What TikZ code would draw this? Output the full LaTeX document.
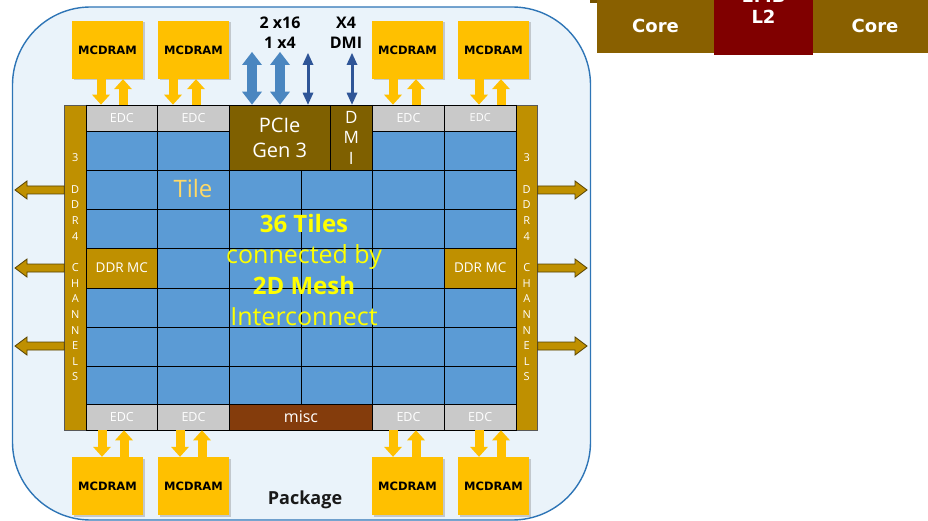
\documentclass[tikz,border=0pt]{standalone}
\usepackage{fontspec}
\setmainfont{Open Sans}
\newfontfamily\dvsans{DejaVu Sans}
\usetikzlibrary{arrows.meta,shadows,calc}

\definecolor{pkgfill}{HTML}{EAF3FA}
\definecolor{pkgline}{HTML}{2E75B6}
\definecolor{tileblue}{HTML}{5B9BD5}
\definecolor{edcgray}{HTML}{C9C9C9}
\definecolor{pciebrown}{HTML}{7F6000}
\definecolor{ddrgold}{HTML}{BF9000}
\definecolor{miscbrown}{HTML}{843C0C}
\definecolor{mcyellow}{HTML}{FFC000}
\definecolor{widearrow}{HTML}{4A86C0}
\definecolor{thinarrow}{HTML}{2F5597}
\definecolor{corebrown}{HTML}{896000}
\definecolor{ltwored}{HTML}{800000}
\definecolor{tiletext}{HTML}{FFD966}
\definecolor{meshtext}{HTML}{FFFF00}

\newcommand\fsz[2]{\fontsize{#1}{#2}\selectfont}

% outlined block arrow: #1 start, #2 tip, #3 = 1 (points left) or -1 (points right)
\newcommand\sidearrow[3]{%
  \draw[goldarr] ($(#1)+(0,-4)$) -- ($(#2)+(#3*12,-4)$) -- ($(#2)+(#3*12,-9)$)
    -- (#2) -- ($(#2)+(#3*12,9)$) -- ($(#2)+(#3*12,4)$) -- ($(#1)+(0,4)$) -- cycle;}

\begin{document}
\begin{tikzpicture}[x=1pt,y=-1pt,
  cell/.style={rectangle, draw=black, line width=0.7pt, inner sep=0pt, text=white},
  edcbox/.style={cell, fill=edcgray, minimum width=71.67pt, minimum height=26pt,
    font=\fsz{12.5pt}{14pt}},
  mcbox/.style={rectangle, fill=mcyellow, inner sep=0pt, minimum width=71pt,
    minimum height=58pt, font=\dvsans\bfseries\fsz{11.5pt}{13pt},
    drop shadow={shadow xshift=1.5pt, shadow yshift=-1.5pt, opacity=0.3, fill=black!60}},
  barbox/.style={rectangle, fill=ddrgold, draw=black!65, line width=0.6pt, inner sep=0pt,
    minimum width=21.5pt, minimum height=325pt, text=white, align=center,
    font=\fsz{11pt}{15.65pt}},
  mcarrow/.style={draw=mcyellow, line width=9pt,
    -{Triangle[width=18pt,length=10pt,line width=0pt]}},
  pciewide/.style={draw=widearrow, line width=10pt,
    {Triangle[width=20pt,length=13pt,line width=0pt]}-{Triangle[width=20pt,length=13pt,line width=0pt]}},
  pcithin/.style={draw=thinarrow, line width=3pt,
    {Triangle[width=11pt,length=12pt,line width=0pt]}-{Triangle[width=11pt,length=12pt,line width=0pt]}},
  goldarr/.style={fill=ddrgold, draw=black!55!ddrgold, line width=0.8pt, line join=miter},
  corebox/.style={rectangle, inner sep=0pt, text=white, font=\dvsans\bfseries\fsz{18pt}{21pt}},
  gridline/.style={draw=black, line width=0.7pt},
  toplabel/.style={anchor=base, font=\bfseries\fsz{16pt}{18pt}}
]
\useasboundingbox (0,0) rectangle (928,521);
\clip (0,0) rectangle (928,521);

% package outline
\draw[fill=pkgfill, draw=pkgline, line width=1.4pt, rounded corners=78pt]
  (12.5,7) rectangle (590.5,520);

% core / L2 strip at the top right
\fill[corebrown!85!black] (590,-1) rectangle (714,2.7);
\node[corebox, fill=corebrown, minimum width=117pt, minimum height=54pt] (core1) at (655.5,26) {Core};
\node[corebox, fill=corebrown, minimum width=124pt, minimum height=54pt] (core2) at (875,26) {Core};
\node[corebox, fill=ltwored, minimum width=99pt, minimum height=56pt] (ltwo) at (763.5,27) {};
\node[corebox, anchor=base] (ltwolab) at (763.5,24) {L2};
\node[corebox, anchor=base] (ltwosize) at (763.5,3) {1MB};

% DDR4 channel bars
\node[barbox] (lbar) at (75.25,267.5)
  {3\\~\\D\\D\\R\\4\\~\\C\\H\\A\\N\\N\\E\\L\\S};
\node[barbox] (rbar) at (526.75,267.5)
  {3\\~\\D\\D\\R\\4\\~\\C\\H\\A\\N\\N\\E\\L\\S};

% tile mesh
\fill[tileblue] (86,131) rectangle (516,404);
\foreach \x in {86,157.67,229.33,301,372.67,444.33,516}
  \draw[gridline] (\x,105) -- (\x,430);
\foreach \y in {105,131,170,209,248,288,327,366,404,430}
  \draw[gridline] (86,\y) -- (516,\y);

% EDC blocks
\node[edcbox] (edct1) at (121.83,118) {EDC};
\node[edcbox] (edct2) at (193.5,118) {EDC};
\node[edcbox] (edct3) at (408.5,118) {EDC};
\node[edcbox, font=\fsz{11pt}{13pt}] (edct4) at (480.17,118) {EDC};
\node[edcbox] (edcb1) at (121.83,417) {EDC};
\node[edcbox] (edcb2) at (193.5,417) {EDC};
\node[edcbox] (edcb3) at (408.5,417) {EDC};
\node[edcbox] (edcb4) at (480.17,417) {EDC};

% misc, PCIe, DMI, DDR memory controllers
\node[cell, fill=miscbrown, minimum width=143.33pt, minimum height=26pt,
  font=\fsz{16pt}{18pt}] (misc) at (301,417) {misc};
\node[cell, fill=pciebrown, minimum width=100.67pt, minimum height=65pt, align=center,
  font=\fsz{20pt}{25pt}] (pcie) at (279.67,137.5) {PCIe\\Gen 3};
\node[cell, fill=pciebrown, minimum width=42.67pt, minimum height=65pt, align=center,
  font=\fsz{17pt}{20.5pt}] (dmi) at (351.33,137.5) {D\\M\\I};
\node[cell, fill=ddrgold, minimum width=71.67pt, minimum height=40pt,
  font=\fsz{13.5pt}{15pt}] (ddrl) at (121.83,268) {DDR MC};
\node[cell, fill=ddrgold, minimum width=71.67pt, minimum height=40pt,
  font=\fsz{13.5pt}{15pt}] (ddrr) at (480.17,268) {DDR MC};

% labels on the mesh
\node[anchor=base, text=tiletext, font=\fsz{24pt}{28pt}] (tilelab) at (193,198) {Tile};
\node[anchor=base, text=meshtext, font=\bfseries\fsz{24pt}{28pt}] (m1) at (304,232.5) {36 Tiles};
\node[anchor=base, text=meshtext, font=\fsz{25pt}{28pt}] (m2) at (304,263.5) {connected by};
\node[anchor=base, text=meshtext, font=\bfseries\fsz{24pt}{28pt}] (m3) at (304,294.5) {2D Mesh};
\node[anchor=base, text=meshtext, font=\fsz{25pt}{28pt}] (m4) at (304,325.5) {Interconnect};

% MCDRAM stacks
\node[mcbox] (mct1) at (107.5,50) {MCDRAM};
\node[mcbox] (mct2) at (193.5,50) {MCDRAM};
\node[mcbox] (mct3) at (407.5,50) {MCDRAM};
\node[mcbox] (mct4) at (493.5,50) {MCDRAM};
\node[mcbox] (mcb1) at (107.5,486) {MCDRAM};
\node[mcbox] (mcb2) at (193.5,486) {MCDRAM};
\node[mcbox] (mcb3) at (407.5,486) {MCDRAM};
\node[mcbox] (mcb4) at (493.5,486) {MCDRAM};

% MCDRAM <-> EDC links
\foreach \m/\e/\dn/\up in {mct1/edct1/-6.5/15.5, mct2/edct2/-20.5/2.5,
                          mct3/edct3/-14.5/8.5, mct4/edct4/-14.5/7.5}{
  \draw[mcarrow] ($(\m.south)+(\dn,0)$) -- ($(\e.north -| \m.south)+(\dn,0)$);
  \draw[mcarrow] ($(\e.north -| \m.south)+(\up,0)$) -- ($(\m.south)+(\up,0)$);
}
\foreach \m/\e/\dn/\up in {mcb1/edcb1/-5.5/16.5, mcb2/edcb2/-13.5/8.5,
                          mcb3/edcb3/-14.5/8.5, mcb4/edcb4/-14.5/7.5}{
  \draw[mcarrow] ($(\e.south -| \m.north)+(\dn,0)$) -- ($(\m.north)+(\dn,0)$);
  \draw[mcarrow] ($(\m.north)+(\up,0)$) -- ($(\e.south -| \m.north)+(\up,0)$);
}

% PCIe and DMI links
\coordinate (px1) at (252,52);
\coordinate (px2) at (280,52);
\coordinate (px3) at (308,53);
\coordinate (dx1) at (352,53);
\draw[pciewide] (px1) -- (px1 |- pcie.north);
\draw[pciewide] (px2) -- (px2 |- pcie.north);
\draw[pcithin] (px3) -- (px3 |- pcie.north);
\draw[pcithin] (dx1) -- (dx1 |- dmi.north);
\node[toplabel] (pcl1) at (280,28.3) {2 x16};
\node[toplabel] (pcl2) at (280,49) {1 x4};
\node[toplabel] (dml1) at (346,28.3) {X4};
\node[toplabel] (dml2) at (346,49) {DMI};

% DDR4 channel links
\coordinate (la1) at (15,190);
\coordinate (la2) at (15,268);
\coordinate (la3) at (15,346);
\coordinate (ra1) at (587,190);
\coordinate (ra2) at (587,268);
\coordinate (ra3) at (587,346);
\coordinate (ls1) at (lbar.west |- la1);
\coordinate (ls2) at (lbar.west |- la2);
\coordinate (ls3) at (lbar.west |- la3);
\coordinate (rs1) at (rbar.east |- ra1);
\coordinate (rs2) at (rbar.east |- ra2);
\coordinate (rs3) at (rbar.east |- ra3);
\sidearrow{ls1}{la1}{1}
\sidearrow{ls2}{la2}{1}
\sidearrow{ls3}{la3}{1}
\sidearrow{rs1}{ra1}{-1}
\sidearrow{rs2}{ra2}{-1}
\sidearrow{rs3}{ra3}{-1}

% package caption
\node[anchor=base, text=black!90, font=\bfseries\fsz{18pt}{21pt}] (pkglab) at (305,504) {Package};
\end{tikzpicture}
\end{document}
